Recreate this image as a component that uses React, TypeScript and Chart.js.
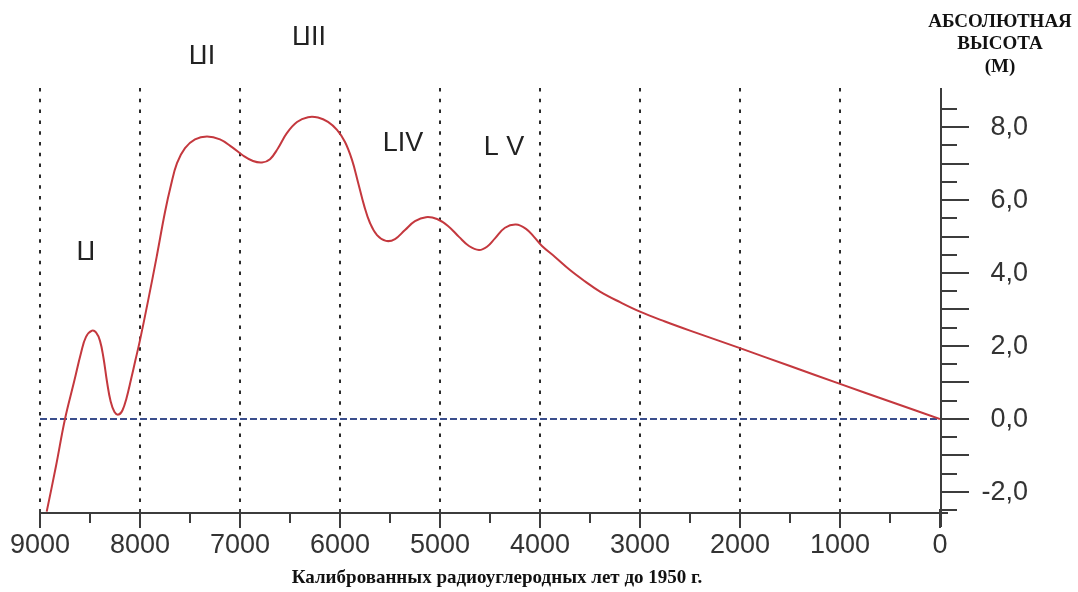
import React, { useEffect, useRef } from "react";
import { Chart, registerables } from "chart.js";

Chart.register(...registerables);

// Calibrated years BP and absolute height (m)
const years = [8933, 8840, 8750, 8660, 8590, 8540, 8480, 8440, 8400, 8365, 8330, 8295, 8255, 8215, 8175, 8135, 8090, 8045, 8000, 7920, 7833, 7750, 7690, 7630, 7550, 7450, 7330, 7200, 7080, 6970, 6870, 6780, 6700, 6620, 6530, 6430, 6320, 6220, 6120, 6030, 5950, 5880, 5820, 5760, 5700, 5630, 5540, 5450, 5350, 5250, 5140, 5030, 4920, 4810, 4710, 4610, 4530, 4450, 4350, 4240, 4140, 4060, 3980, 3850, 3700, 3550, 3400, 3200, 3000, 2750, 2500, 2000, 1500, 1000, 500, 0];
const heights = [-2.54, -1.29, 0.0, 1.01, 1.81, 2.25, 2.42, 2.37, 2.14, 1.67, 1.02, 0.5, 0.19, 0.12, 0.24, 0.57, 1.08, 1.62, 2.16, 3.23, 4.45, 5.67, 6.41, 7.01, 7.42, 7.66, 7.74, 7.66, 7.45, 7.22, 7.07, 7.03, 7.12, 7.42, 7.84, 8.14, 8.27, 8.26, 8.14, 7.92, 7.59, 7.1, 6.49, 5.86, 5.37, 5.04, 4.88, 4.93, 5.18, 5.42, 5.53, 5.48, 5.29, 4.99, 4.74, 4.63, 4.72, 4.95, 5.24, 5.33, 5.21, 4.99, 4.74, 4.44, 4.08, 3.77, 3.49, 3.2, 2.94, 2.67, 2.42, 1.94, 1.45, 0.96, 0.48, 0];

const zeroLineYears = [9000, 0];
const zeroLineValues = [0, 0];

const xTickValues = [9000, 8000, 7000, 6000, 5000, 4000, 3000, 2000, 1000, 0];
const xTickLabels = ["9000", "8000", "7000", "6000", "5000", "4000", "3000", "2000", "1000", "0"];
const gridYears = [9000, 8000, 7000, 6000, 5000, 4000, 3000, 2000, 1000];
const yTickValues = [8, 6, 4, 2, 0, -2];
const yTickLabels = ["8,0", "6,0", "4,0", "2,0", "0,0", "-2,0"];

const stageLabels = ["LI", "LII", "LIII", "LIV", "L V"];
const stageYears = [8540, 7380, 6310, 5370, 4360];
const stageHeights = [4.55, 9.92, 10.44, 7.56, 7.45];

const yAxisTitle = ["АБСОЛЮТНАЯ", "ВЫСОТА", "(М)"];
const xAxisTitle = "Калиброванных радиоуглеродных лет до 1950 г.";

const decorPlugin = {
  id: "decor",
  beforeDatasetsDraw(chart: any) {
    const { ctx, chartArea, scales } = chart;
    const x = scales.x;
    ctx.save();
    ctx.strokeStyle = "#2a2a2a";
    ctx.lineWidth = 2;
    ctx.setLineDash([3.5, 7.3]);
    for (const v of gridYears) {
      const px = Math.round(x.getPixelForValue(v));
      ctx.beginPath();
      ctx.moveTo(px, chartArea.top);
      ctx.lineTo(px, chartArea.bottom);
      ctx.stroke();
    }
    ctx.restore();
  },
  afterDraw(chart: any) {
    const { ctx, chartArea, scales } = chart;
    const x = scales.x;
    const y = scales.y;
    const axisColor = "#3c3c3c";
    const textColor = "#333333";
    ctx.save();
    ctx.setLineDash([]);
    ctx.strokeStyle = axisColor;
    ctx.lineWidth = 2;

    const xAxisY = chartArea.bottom + 1;
    const yAxisX = x.getPixelForValue(0) + 1;

    // x axis line
    ctx.beginPath();
    ctx.moveTo(x.getPixelForValue(9000), xAxisY);
    ctx.lineTo(yAxisX + 7, xAxisY);
    ctx.stroke();
    // x ticks
    for (let v = 9000; v >= 0; v -= 500) {
      const px = Math.round(x.getPixelForValue(v));
      const major = v % 1000 === 0;
      ctx.beginPath();
      ctx.moveTo(px, major ? xAxisY - 4 : xAxisY);
      ctx.lineTo(px, major ? xAxisY + 15 : xAxisY + 10);
      ctx.stroke();
    }
    // y axis line
    ctx.beginPath();
    ctx.moveTo(yAxisX, chartArea.top);
    ctx.lineTo(yAxisX, xAxisY + 14);
    ctx.stroke();
    // y ticks
    for (let i = -5; i <= 17; i++) {
      const v = i / 2;
      const py = Math.round(y.getPixelForValue(v));
      const major = i % 2 === 0;
      ctx.beginPath();
      ctx.moveTo(yAxisX, py);
      ctx.lineTo(yAxisX + (major ? 28 : 16), py);
      ctx.stroke();
    }

    // tick labels
    ctx.fillStyle = textColor;
    ctx.font = "27px 'Liberation Sans', Arial, sans-serif";
    ctx.textAlign = "center";
    ctx.textBaseline = "middle";
    xTickValues.forEach((v, i) => {
      ctx.fillText(xTickLabels[i], x.getPixelForValue(v), xAxisY + 33);
    });
    ctx.textAlign = "right";
    yTickValues.forEach((v, i) => {
      ctx.fillText(yTickLabels[i], yAxisX + 87, y.getPixelForValue(v) + 1);
    });

    // axis titles
    ctx.fillStyle = "#111111";
    ctx.textAlign = "center";
    ctx.font = "bold 19px 'Liberation Serif', 'Times New Roman', serif";
    yAxisTitle.forEach((t, i) => {
      ctx.fillText(t, 1000, 22 + i * 22.5);
    });
    ctx.font = "bold 19px 'Liberation Serif', 'Times New Roman', serif";
    ctx.fillText(xAxisTitle, 497, 578);

    // stage labels
    ctx.fillStyle = "#222222";
    ctx.font = "27px 'Liberation Sans', Arial, sans-serif";
    ctx.textAlign = "left";
    stageLabels.forEach((t, i) => {
      const cx = x.getPixelForValue(stageYears[i]);
      const cy = y.getPixelForValue(stageHeights[i]);
      const head = t.charAt(0);
      const rest = t.slice(1);
      const touching = rest.startsWith("I") && !rest.startsWith("IV");
      const headW = ctx.measureText(head).width;
      const gap = touching ? -3.5 : 0;
      const restW = ctx.measureText(rest).width;
      const total = headW + gap + restW;
      const sx = cx - total / 2;
      ctx.fillText(head, sx, cy);
      ctx.fillText(rest, sx + headW + gap, cy);
    });
    ctx.restore();
  },
};

export default function App() {
  const canvasRef = useRef<HTMLCanvasElement | null>(null);

  useEffect(() => {
    const canvas = canvasRef.current;
    if (!canvas) return;
    const chart = new Chart(canvas, {
      type: "line",
      data: {
        datasets: [
          {
            label: "Абсолютная высота",
            data: years.map((yr, i) => ({ x: yr, y: heights[i] })),
            borderColor: "#c4383e",
            borderWidth: 2,
            pointRadius: 0,
            fill: false,
            tension: 0.4,
            order: 0,
          },
          {
            label: "0",
            data: zeroLineYears.map((yr, i) => ({ x: yr, y: zeroLineValues[i] })),
            borderColor: "#3a4d8c",
            borderWidth: 2,
            borderDash: [7, 3],
            pointRadius: 0,
            fill: false,
            order: 1,
          },
        ],
      },
      options: {
        animation: false,
        responsive: false,
        devicePixelRatio: 1,
        layout: { padding: { left: 40, right: 138, top: 88, bottom: 80 } },
        plugins: {
          legend: { display: false },
          tooltip: { enabled: false },
        },
        scales: {
          x: { type: "linear", min: 0, max: 9000, reverse: true, display: false },
          y: { type: "linear", min: -2.55, max: 9.07, display: false },
        },
      },
      plugins: [decorPlugin],
    });
    return () => chart.destroy();
  }, []);

  return (
    <div style={{ position: "fixed", left: 0, top: 0, width: 1078, height: 592, background: "#ffffff" }}>
      <canvas ref={canvasRef} width={1078} height={592} style={{ width: 1078, height: 592, display: "block" }} />
    </div>
  );
}
